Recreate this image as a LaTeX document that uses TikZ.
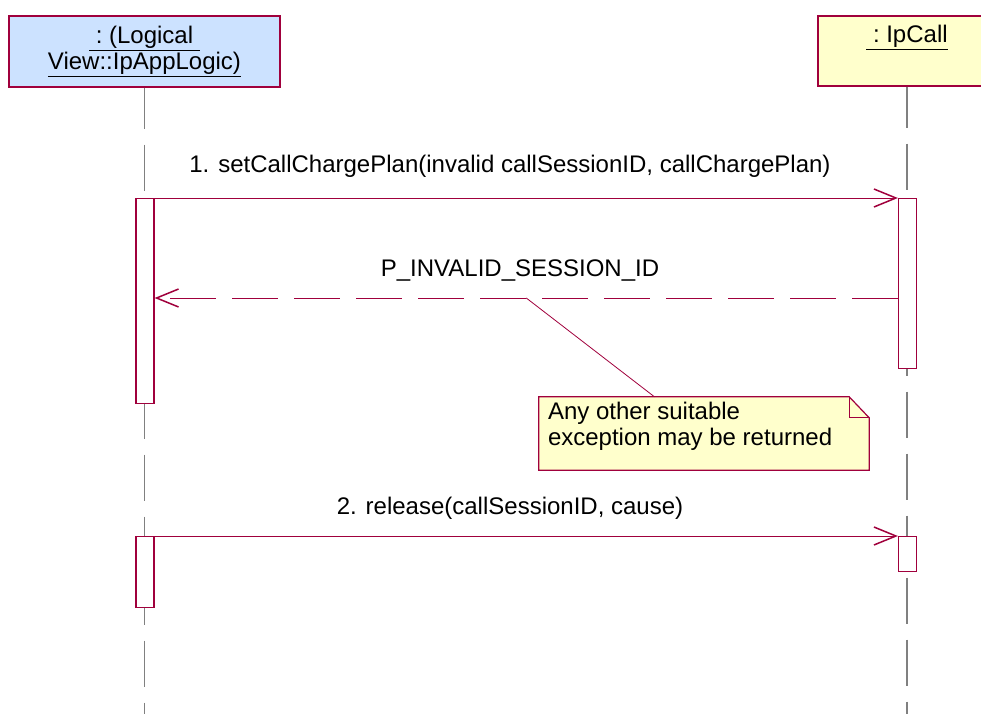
\documentclass[tikz,border=0pt]{standalone}
\usepackage{fontspec}
\setmainfont{Liberation Sans}
\usepackage{tikz}
\usetikzlibrary{arrows.meta,calc}
\definecolor{dark_red}{HTML}{A0003C}
\definecolor{light_blue}{HTML}{CCE2FF}
\definecolor{light_yellow}{HTML}{FFFFCC}
\definecolor{life_gray}{HTML}{808080}

\begin{document}
\begin{tikzpicture}[x=1pt,y=-1pt,>={Straight Barb[length=22pt,width=18pt,line width=1.5pt]},
        txt/.style={font=\fontsize{24}{26}\selectfont, inner sep=0pt},
        header/.style={txt, draw=dark_red, line width=1.2pt, align=center},
        act/.style={draw=dark_red, fill=white, line width=1.2pt, minimum width=18pt, inner sep=0pt, anchor=north},
        lifeline/.style={life_gray, line width=1.2pt, dash pattern=on 46pt off 16pt, dash phase=5pt},
        msg/.style={dark_red, line width=1pt, ->},
        retmsg/.style={msg, dash pattern=on 46pt off 16pt}]

        % Cadre de l'image
        \useasboundingbox (0,0) rectangle (981,714);
        \coordinate (bottom) at (0,714);

        % Les deux objets
        \node[header, fill=light_blue, minimum width=271pt, minimum height=71pt] (logic) at (144.5,51.5)
            {\underline{\ :\ (Logical\ }\\\underline{View::IpAppLogic)}};
        \node[header, fill=light_yellow, minimum width=178pt, minimum height=70pt] (ipcall) at (907,51)
            {\underline{\ :\ IpCall}\\\strut};

        % Lignes de vie
        \draw[lifeline] (logic.south) -- (logic.south |- bottom);
        \draw[lifeline] (ipcall.south) -- (ipcall.south |- bottom);

        % Barres d'activation
        \node[act, minimum height=205pt] (act1L) at (145,198) {};
        \node[act, minimum height=170pt] (act1R) at (907.5,198) {};
        \node[act, minimum height=71pt] (act2L) at (145,536) {};
        \node[act, minimum height=35pt] (act2R) at (907.5,536) {};

        % Message 1 et son retour
        \draw[msg] (act1L.north east) -- (act1R.north west);
        \node[txt] (m1lbl) at (510,166) {1. setCallChargePlan(invalid callSessionID, callChargePlan)};
        \coordinate (retY) at (0,298);
        \draw[retmsg] (act1R.west |- retY) -- (act1L.east |- retY) coordinate[midway] (retmid);
        \node[txt] (retlbl) at (520,271) {P\_INVALID\_SESSION\_ID};

        % Note
        \node[minimum width=330pt, minimum height=73pt, inner sep=0pt] (note) at (704,433.5) {};
        \draw[dark_red, line width=1.2pt, fill=light_yellow] (note.north west) -- ([xshift=-20pt]note.north east)
            -- ([yshift=-21pt]note.north east) -- (note.south east) -- (note.south west) -- cycle;
        \draw[dark_red, line width=1pt] ([xshift=-20pt]note.north east) -- ([xshift=-20pt,yshift=-21pt]note.north east)
            -- ([yshift=-21pt]note.north east);
        \node[txt, anchor=west, align=left] (notetxt) at ([xshift=9pt,yshift=7pt]note.west)
            {Any other suitable\\exception may be returned};
        \draw[dark_red, line width=0.8pt] (retmid) -- ($(note.north west)!0.35!(note.north east)$);

        % Message 2
        \draw[msg] (act2L.north east) -- (act2R.north west);
        \node[txt] (m2lbl) at (510,508) {2. release(callSessionID, cause)};
    \end{tikzpicture}
\end{document}
